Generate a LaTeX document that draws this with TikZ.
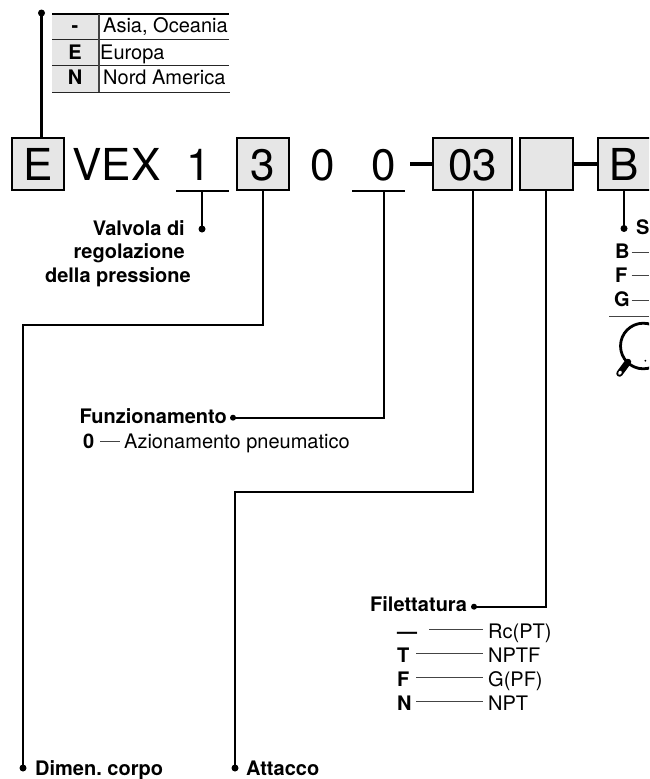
\documentclass[tikz,border=0pt]{standalone}
\usepackage{fontspec}
\setmainfont{TeX Gyre Heros}
\definecolor{cellgray}{HTML}{E6E6E6}
\definecolor{thin}{HTML}{444444}
\tikzset{
  x=1pt,y=-1pt,
  big/.style={font=\fontsize{44}{44}\selectfont,inner sep=0pt,anchor=base},
  codebox/.style={draw=black,line width=2pt,fill=cellgray,minimum height=52pt,inner sep=0pt,font=\fontsize{44}{44}\selectfont,text height=33pt,text depth=0pt},
  lead/.style={line width=2.2pt,line join=miter},
  thick lead/.style={line width=2pt},
  dash bar/.style={line width=3.6pt},
  fine/.style={line width=1pt,draw=thin},
  blob/.style={circle,fill=black,inner sep=0pt,minimum size=7pt},
  lab/.style={font=\fontsize{20}{20}\selectfont\bfseries,inner sep=0pt,anchor=base west},
  labr/.style={font=\fontsize{20}{20}\selectfont\bfseries,inner sep=0pt,anchor=base east},
  txt/.style={font=\fontsize{20}{20}\selectfont,inner sep=0pt,anchor=base west},
  cell/.style={font=\fontsize{20}{20}\selectfont\bfseries,inner sep=0pt,anchor=base},
}
\begin{document}
\begin{tikzpicture}
\useasboundingbox (0,0) rectangle (649,779);
\clip (0,0) rectangle (649,779);
% region table
\fill[cellgray] (52,14) rectangle (99,92);
\draw[line width=2pt] (52,13.7) -- (229,13.7);
\draw[line width=0.9pt,draw=black!85] (52,39) -- (229,39);
\draw[line width=0.9pt,draw=black!85] (52,65.7) -- (229,65.7);
\draw[line width=0.9pt,draw=black!85] (52,92) -- (230,92);
\draw[line width=1.1pt,draw=thin] (99,14) -- (99,92);
\node[cell] (c1) at (75,32) {-};
\node[cell] (c2) at (75,59) {E};
\node[cell] (c3) at (75,84) {N};
\node[txt] (t1) at (103,32) {Asia, Oceania};
\node[txt] (t2) at (100,59) {Europa};
\node[txt] (t3) at (103,84) {Nord America};
% code boxes
\node[codebox,minimum width=52pt] (bE) at (38,163.5) {E};
\node[big] (vex) at (116.5,180) {VEX};
\node[big] (n1) at (199,180.5) {1};
\node[codebox,minimum width=52pt] (b3) at (263,163.5) {3};
\node[big] (n0a) at (322.5,180) {0};
\node[big] (n0b) at (384,180) {0};
\node[codebox,minimum width=79pt] (b03) at (472.7,164) {03};
\node[codebox,minimum width=53pt] (bX) at (546.7,164) {};
\node[codebox,minimum width=53pt] (bB) at (624,164) {B};
% underlines and dashes
\coordinate (u1a) at (176,190.5); \coordinate (u1b) at (229,190.5);
\coordinate (u0a) at (352,190.5); \coordinate (u0b) at (405,190.5);
\draw[thick lead] (u1a) -- (u1b);
\draw[thick lead] (u0a) -- (u0b);
\coordinate (d1) at (410,164);
\draw[dash bar] (d1) -- (b03.west);
\draw[dash bar] (bX.east) -- (bB.west);
% dots
\node[blob] (dE) at (41.5,13) {};
\node[blob] (dV) at (202,229) {};
\node[blob] (dS) at (624,228.5) {};
\node[blob,minimum size=6pt] (dF) at (233,417.7) {};
\node[blob,minimum size=6pt] (dFi) at (474,606.7) {};
\node[blob] (dD) at (23,768) {};
\node[blob] (dA) at (235,768) {};
% leaders
\draw[lead] (dE.center) -- (dE.center |- bE.north);
\draw[lead] (dV.center |- u1a) -- (dV.center);
\draw[lead] (b3.south) -- (263,325) -- (23,325) -- (dD.center);
\draw[lead] (384,190.5) -- (384,417.7) -- (dF.center);
\draw[lead] (b03.south) -- (472.7,492) -- (235,492) -- (dA.center);
\draw[lead] (546.2,190) -- (546.2,606.7) -- (dFi.center);
\draw[lead] (bB.south) -- (dS.center);
% labels
\node[labr] (v1) at (185,235) {Valvola di};
\node[labr] (v2) at (185,258) {regolazione};
\node[labr] (v3) at (191,282) {della pressione};
\node[lab] (fu) at (79.5,423.5) {Funzionamento};
\node[lab] (z0) at (83,448) {0};
\coordinate (z0r) at (100,441); \coordinate (z0l) at (120,441);
\draw[fine] (z0r) -- (z0l);
\node[txt] (az) at (124,448) {Azionamento pneumatico};
\node[lab] (fi) at (370,611) {Filettatura};
\node[lab] (f0) at (397,638) {—};
\node[lab] (f1) at (397,662) {T};
\node[lab] (f2) at (397,686) {F};
\node[lab] (f3) at (397,710) {N};
\node[txt] (r0) at (488,638) {Rc(PT)};
\node[txt] (r1) at (488,662) {NPTF};
\node[txt] (r2) at (488,686) {G(PF)};
\node[txt] (r3) at (488,710) {NPT};
\coordinate (l0) at (429,629.5); \coordinate (e0) at (483,629.5);
\coordinate (l1) at (416,653.7); \coordinate (e1) at (483,653.7);
\coordinate (l2) at (416,677.7); \coordinate (e2) at (483,677.7);
\coordinate (l3) at (416,701.7); \coordinate (e3) at (483,701.7);
\draw[fine] (l0) -- (e0);
\draw[fine] (l1) -- (e1);
\draw[fine] (l2) -- (e2);
\draw[fine] (l3) -- (e3);
\node[lab] (dc) at (35,775) {Dimen.\ corpo};
\node[lab] (at) at (246,775) {Attacco};
% right side
\node[lab] (s) at (636,234.5) {S};
\node[lab] (sB) at (615,258.5) {B};
\node[lab] (sF) at (615,282) {F};
\node[lab] (sG) at (614,306.5) {G};
\coordinate (lB) at (631.5,252); \coordinate (eB) at (649,252);
\coordinate (lF) at (631.5,275.5); \coordinate (eF) at (649,275.5);
\coordinate (lG) at (631.5,300); \coordinate (eG) at (649,300);
\draw[fine] (lB) -- (eB);
\draw[fine] (lF) -- (eF);
\draw[fine] (lG) -- (eG);
\coordinate (ra) at (609,316.7); \coordinate (rb) at (649,316.7);
\draw[fine] (ra) -- (rb);
% magnifier
\draw[line width=2.8pt] (643.3,346) circle (22.8pt);
\draw[line width=6.5pt,line cap=round] (628,362) -- (619.5,373.5);
\draw[line width=3pt,draw=white,line cap=round] (620.5,372) -- (619.5,373.5);
\fill (645.3,360.7) circle (1pt);
\end{tikzpicture}
\end{document}
